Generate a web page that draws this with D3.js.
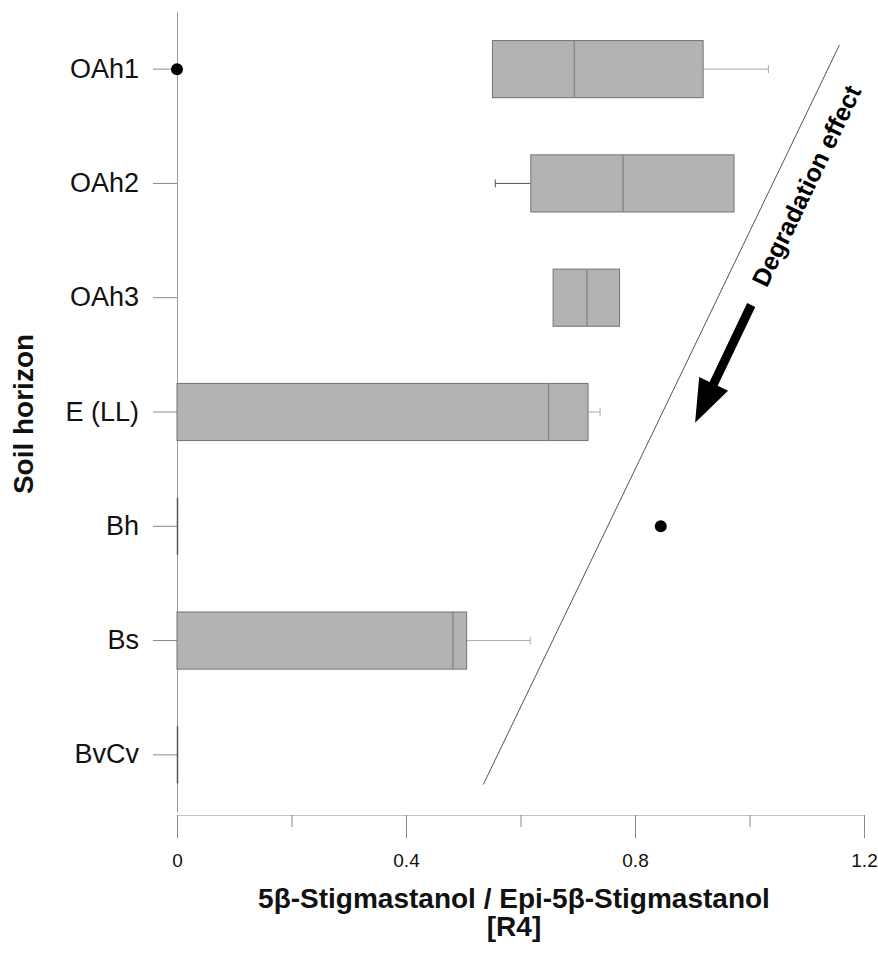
<!DOCTYPE html>
<html><head><meta charset="utf-8">
<script src="https://cdn.jsdelivr.net/npm/d3@7"></script>
<style>body{margin:0;background:#fff;} svg{display:block;}</style>
</head><body><svg id="chart" width="878" height="960"></svg>
<script>
// ---- data ----
const categories = ["OAh1", "OAh2", "OAh3", "E (LL)", "Bh", "Bs", "BvCv"];
const whiskerLow  = [0.551, 0.556, 0.657, 0,     0, 0,     0];
const q1          = [0.551, 0.618, 0.657, 0,     0, 0,     0];
const median      = [0.694, 0.779, 0.716, 0.649, 0, 0.482, 0];
const q3          = [0.919, 0.973, 0.773, 0.718, 0, 0.506, 0];
const whiskerHigh = [1.033, 0.973, 0.773, 0.739, 0, 0.617, 0];
const outlierCats   = ["OAh1", "Bh"];
const outlierValues = [0, 0.845];
const xTicksMajor = [0, 0.4, 0.8, 1.2];
const xTickLabels = ["0", "0.4", "0.8", "1.2"];
const xTicksMinor = [0.2, 0.6, 1.0];
const xTitle = ["5β-Stigmastanol / Epi-5β-Stigmastanol", "[R4]"];
const yTitle = "Soil horizon";
const annotationText = "Degradation effect";
// annotation line / arrow in data units (x value, category index)
const trendLine = [[0.535, 6.26], [1.157, -0.21]];
const arrowPts  = [[1.003, 2.064], [0.905, 3.094]];
const textPos   = [1.099, 1.02];

// ---- chart ----
const FONT = "'Liberation Sans', Arial, sans-serif";
const svg = d3.select("#chart");
const x = d3.scaleLinear().domain([0, 1.2]).range([177, 864]);
const y = d3.scaleBand().domain(categories).range([12, 812]);
const yc = c => y(c) + y.bandwidth() / 2;
const yIdx = d3.scaleLinear().domain([0, categories.length - 1])
  .range([yc(categories[0]), yc(categories[categories.length - 1])]);
const boxH = y.bandwidth() * 0.5;

// y axis
const yAxis = svg.append("g").attr("transform", "translate(177,0)")
  .call(d3.axisLeft(y).tickSize(24).tickSizeOuter(0).tickPadding(14));
yAxis.select(".domain").attr("stroke", "#999").attr("d", "M0.5,12V812");
yAxis.selectAll(".tick line").attr("stroke", "#888");
yAxis.selectAll(".tick text").attr("font-family", FONT).attr("font-size", 27).attr("fill", "#111");

// x axis
const allTicks = xTicksMajor.concat(xTicksMinor);
const xAxis = svg.append("g").attr("transform", "translate(0,815)")
  .call(d3.axisBottom(x).tickValues(allTicks).tickSize(23).tickSizeOuter(0).tickPadding(16)
    .tickFormat(d => { const i = xTicksMajor.indexOf(d); return i >= 0 ? xTickLabels[i] : ""; }));
xAxis.select(".domain").attr("stroke", "#c4c4c4");
xAxis.selectAll(".tick line").attr("stroke", "#888")
  .attr("y2", d => xTicksMajor.indexOf(d) >= 0 ? 23 : 12);
xAxis.selectAll(".tick text").attr("font-family", FONT).attr("font-size", 19).attr("fill", "#111");

// boxes
const data = categories.map((c, i) => ({c, lo: whiskerLow[i], q1: q1[i], med: median[i], q3: q3[i], hi: whiskerHigh[i]}));
const g = svg.append("g");
data.forEach(d => {
  const cy = yc(d.c);
  const wStroke = "#a8a8a8";
  if (d.hi > d.q3) {
    g.append("line").attr("x1", x(d.q3)).attr("x2", x(d.hi)).attr("y1", cy).attr("y2", cy).attr("stroke", wStroke);
    g.append("line").attr("x1", x(d.hi)).attr("x2", x(d.hi)).attr("y1", cy - 4).attr("y2", cy + 4).attr("stroke", wStroke);
  }
  if (d.lo < d.q1) {
    g.append("line").attr("x1", x(d.lo)).attr("x2", x(d.q1)).attr("y1", cy).attr("y2", cy).attr("stroke", "#555");
    g.append("line").attr("x1", x(d.lo)).attr("x2", x(d.lo)).attr("y1", cy - 4).attr("y2", cy + 4).attr("stroke", "#555");
  }
  const x1 = x(d.q1), x2 = x(d.q3), y1 = cy - boxH / 2, y2 = cy + boxH / 2;
  if (x2 > x1) {
    g.append("rect").attr("x", x1).attr("y", y1).attr("width", x2 - x1).attr("height", boxH)
      .attr("fill", "#b3b3b3").attr("stroke", "#737373").attr("stroke-width", 1);
    g.append("line").attr("x1", x(d.med)).attr("x2", x(d.med)).attr("y1", y1).attr("y2", y2)
      .attr("stroke", "#888").attr("stroke-width", 1.5);
  } else {
    g.append("line").attr("x1", x1 + 0.5).attr("x2", x1 + 0.5).attr("y1", y1).attr("y2", y2)
      .attr("stroke", "#555").attr("stroke-width", 1.5);
  }
});

// outliers
svg.append("g").selectAll("circle").data(outlierValues).join("circle")
  .attr("cx", d => x(d)).attr("cy", (d, i) => yc(outlierCats[i])).attr("r", 6).attr("fill", "#000");

// trend line
svg.append("line")
  .attr("x1", x(trendLine[0][0])).attr("y1", yIdx(trendLine[0][1]))
  .attr("x2", x(trendLine[1][0])).attr("y2", yIdx(trendLine[1][1]))
  .attr("stroke", "#555").attr("stroke-width", 1);

// arrow
const ax0 = x(arrowPts[0][0]), ay0 = yIdx(arrowPts[0][1]);
const ax1 = x(arrowPts[1][0]), ay1 = yIdx(arrowPts[1][1]);
const len = Math.hypot(ax1 - ax0, ay1 - ay0);
const ux = (ax1 - ax0) / len, uy = (ay1 - ay0) / len;
const nx = -uy, ny = ux;
const headLen = 43, headHalf = 16, shaftHalf = 4.5;
const bx = ax1 - ux * headLen, by = ay1 - uy * headLen;
const arrow = [
  [ax0 + nx * shaftHalf, ay0 + ny * shaftHalf],
  [bx + nx * shaftHalf, by + ny * shaftHalf],
  [bx + nx * headHalf, by + ny * headHalf],
  [ax1, ay1],
  [bx - nx * headHalf, by - ny * headHalf],
  [bx - nx * shaftHalf, by - ny * shaftHalf],
  [ax0 - nx * shaftHalf, ay0 - ny * shaftHalf]
];
svg.append("path").attr("d", d3.line()(arrow) + "Z").attr("fill", "#000");

// annotation text
const angle = Math.atan2(yIdx(trendLine[1][1]) - yIdx(trendLine[0][1]), x(trendLine[1][0]) - x(trendLine[0][0])) * 180 / Math.PI;
svg.append("text")
  .attr("transform", `translate(${x(textPos[0])},${yIdx(textPos[1])}) rotate(${angle})`)
  .attr("text-anchor", "middle").attr("dominant-baseline", "central")
  .attr("font-family", FONT).attr("font-weight", "bold").attr("font-size", 25).attr("fill", "#000")
  .text(annotationText);

// axis titles
svg.append("text").attr("x", 514).attr("y", 908).attr("text-anchor", "middle")
  .attr("font-family", FONT).attr("font-weight", "bold").attr("font-size", 28).attr("fill", "#111")
  .text(xTitle[0]);
svg.append("text").attr("x", 514).attr("y", 936).attr("text-anchor", "middle")
  .attr("font-family", FONT).attr("font-weight", "bold").attr("font-size", 28).attr("fill", "#111")
  .text(xTitle[1]);
svg.append("text").attr("transform", "translate(33,414) rotate(-90)").attr("text-anchor", "middle")
  .attr("font-family", FONT).attr("font-weight", "bold").attr("font-size", 28).attr("fill", "#111")
  .text(yTitle);
</script></body></html>
